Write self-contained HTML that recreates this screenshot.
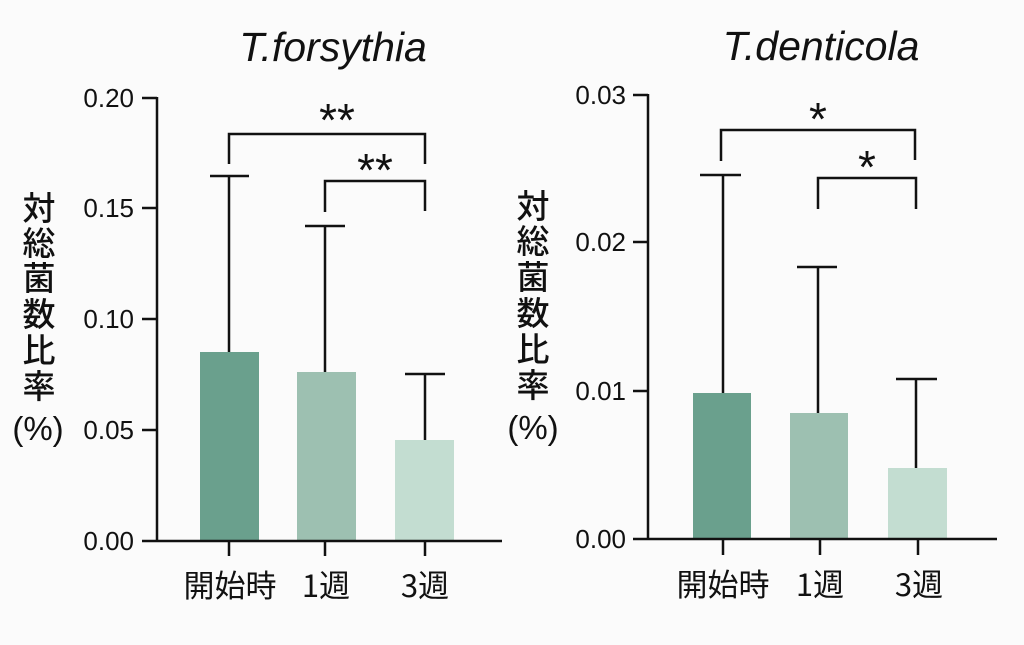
<!DOCTYPE html>
<html>
<head>
<meta charset="utf-8">
<style>
html,body{margin:0;padding:0;background:#fbfbfb;}
svg{display:block;}
.num{font-family:"Liberation Sans",Arial,sans-serif;font-size:26px;fill:#111;}
.ttl{font-family:"Liberation Sans",Arial,sans-serif;font-style:italic;font-size:41px;fill:#111;}
.cjk{font-family:"Liberation Sans","Noto Sans CJK JP",sans-serif;font-size:33px;fill:#111;font-weight:500;}
.xl{font-family:"Noto Sans CJK JP","Liberation Sans",sans-serif;font-size:31px;fill:#111;font-weight:400;}
.star{font-family:"Liberation Sans",Arial,sans-serif;font-size:46px;fill:#111;}
line,path{stroke:#111;stroke-width:2.5;fill:none;}
</style>
</head>
<body>
<svg width="1024" height="645" viewBox="0 0 1024 645" xmlns="http://www.w3.org/2000/svg">
<rect width="1024" height="645" fill="#fbfbfb"/>

<!-- ================= LEFT CHART ================= -->
<text class="ttl" x="333" y="61" text-anchor="middle">T.forsythia</text>

<g class="cjk" text-anchor="middle">
<text x="39" y="220">対</text>
<text x="39" y="255">総</text>
<text x="39" y="290">菌</text>
<text x="39" y="326">数</text>
<text x="39" y="362">比</text>
<text x="39" y="398">率</text>
<text x="38" y="440" font-weight="400">(%)</text>
</g>

<rect x="200" y="352" width="59" height="189" fill="#6aa08d"/>
<rect x="297" y="372" width="59" height="169" fill="#9dc0b1"/>
<rect x="395" y="440" width="59" height="101" fill="#c3ddd1"/>

<line x1="157" y1="97" x2="157" y2="542"/>
<line x1="142" y1="541" x2="502" y2="541"/>
<line x1="142" y1="98" x2="157" y2="98"/>
<line x1="142" y1="208" x2="157" y2="208"/>
<line x1="142" y1="319" x2="157" y2="319"/>
<line x1="142" y1="430" x2="157" y2="430"/>
<line x1="229" y1="541" x2="229" y2="556"/>
<line x1="325" y1="541" x2="325" y2="556"/>
<line x1="425" y1="541" x2="425" y2="556"/>

<g class="num" text-anchor="end">
<text x="134" y="107">0.20</text>
<text x="134" y="217">0.15</text>
<text x="134" y="328">0.10</text>
<text x="134" y="439">0.05</text>
<text x="134" y="550">0.00</text>
</g>

<line x1="229" y1="352" x2="229" y2="176"/>
<line x1="210" y1="176" x2="249" y2="176"/>
<line x1="325" y1="372" x2="325" y2="226"/>
<line x1="305" y1="226" x2="345" y2="226"/>
<line x1="425" y1="440" x2="425" y2="374"/>
<line x1="405" y1="374" x2="445" y2="374"/>

<path d="M229 164 V134 H425 V164"/>
<path d="M325 212 V181 H425 V211"/>
<text class="star" x="337" y="136" text-anchor="middle">**</text>
<text class="star" x="375" y="186" text-anchor="middle">**</text>

<g class="xl" text-anchor="middle">
<text x="230" y="597">開始時</text>
<text x="326" y="597">1週</text>
<text x="425" y="597">3週</text>
</g>

<!-- ================= RIGHT CHART ================= -->
<text class="ttl" x="821" y="60" text-anchor="middle">T.denticola</text>

<g class="cjk" text-anchor="middle">
<text x="533" y="218">対</text>
<text x="533" y="253">総</text>
<text x="533" y="289">菌</text>
<text x="533" y="325">数</text>
<text x="533" y="361">比</text>
<text x="533" y="397">率</text>
<text x="533" y="439" font-weight="400">(%)</text>
</g>

<rect x="693" y="393" width="58" height="146" fill="#6aa08d"/>
<rect x="790" y="413" width="58" height="126" fill="#9dc0b1"/>
<rect x="888" y="468" width="59" height="71" fill="#c3ddd1"/>

<line x1="648" y1="94" x2="648" y2="540"/>
<line x1="633" y1="539" x2="997" y2="539"/>
<line x1="633" y1="95" x2="648" y2="95"/>
<line x1="633" y1="242" x2="648" y2="242"/>
<line x1="633" y1="391" x2="648" y2="391"/>
<line x1="723" y1="539" x2="723" y2="555"/>
<line x1="820" y1="539" x2="820" y2="555"/>
<line x1="918" y1="539" x2="918" y2="555"/>

<g class="num" text-anchor="end">
<text x="626" y="104">0.03</text>
<text x="626" y="251">0.02</text>
<text x="626" y="400">0.01</text>
<text x="626" y="548">0.00</text>
</g>

<line x1="723" y1="393" x2="723" y2="175"/>
<line x1="700" y1="175" x2="741" y2="175"/>
<line x1="818" y1="413" x2="818" y2="267"/>
<line x1="797" y1="267" x2="837" y2="267"/>
<line x1="916" y1="468" x2="916" y2="379"/>
<line x1="896" y1="379" x2="937" y2="379"/>

<path d="M721 161 V130 H915 V160"/>
<path d="M818 209 V178 H916 V209"/>
<text class="star" x="818" y="135" text-anchor="middle">*</text>
<text class="star" x="867" y="183" text-anchor="middle">*</text>

<g class="xl" text-anchor="middle">
<text x="723" y="596">開始時</text>
<text x="820" y="596">1週</text>
<text x="919" y="596">3週</text>
</g>
</svg>
</body>
</html>
